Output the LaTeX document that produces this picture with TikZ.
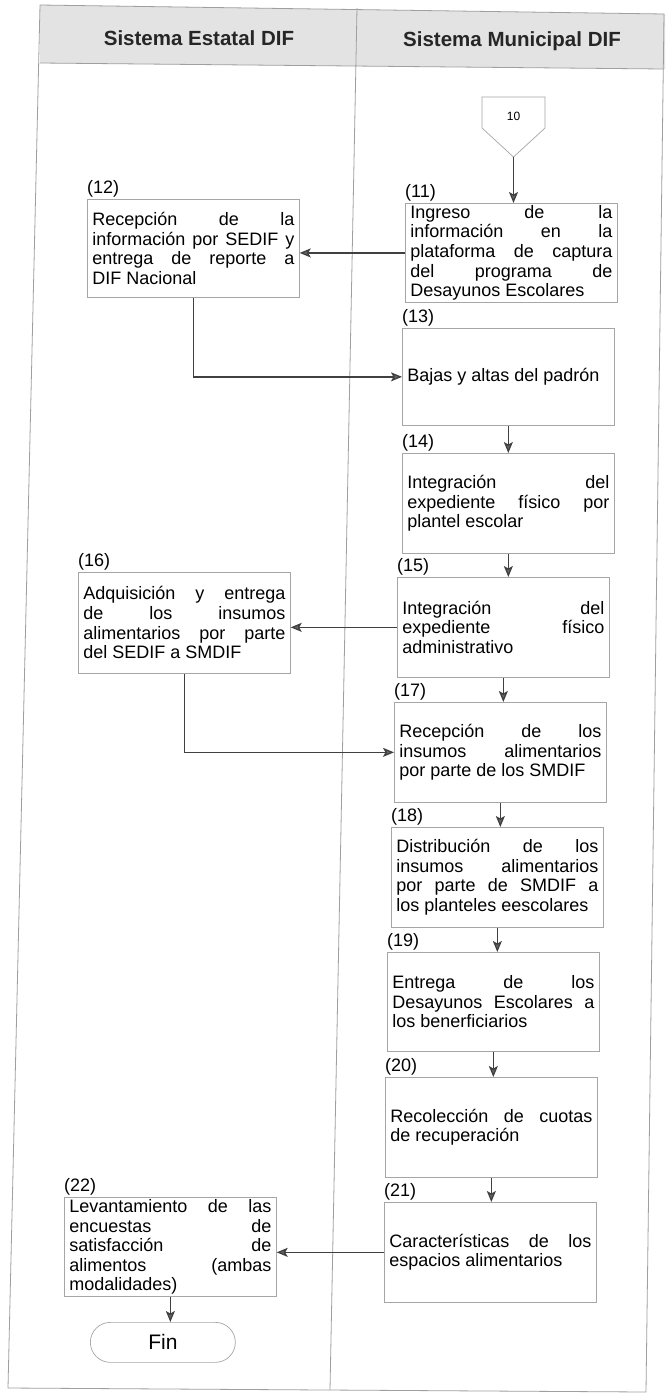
\documentclass[tikz,border=0pt]{standalone}
\usepackage{fontspec}
\setmainfont{Liberation Sans}
\usetikzlibrary{arrows.meta,calc}
\newcommand{\mysetjust}{\spaceskip=0.278em plus 8em minus 0.05em\relax\hyphenpenalty=10000\relax\exhyphenpenalty=10000\relax\tolerance=9999\relax}
\begin{document}
\begin{tikzpicture}[x=1pt,y=-1pt,
  pbox/.style={draw=gray!70, line width=0.7pt, text width=202pt, inner xsep=5pt, inner ysep=2pt,
    align=justify, anchor=north west, font=\fontsize{18}{19.6}\selectfont,
    execute at begin node=\mysetjust},
  numlab/.style={anchor=base west, inner sep=0pt, font=\fontsize{18}{19.6}\selectfont},
  arr/.style={draw=black!75, line width=1.3pt, -{Stealth[length=11pt,width=9pt,inset=2.5pt,fill=black!60]}},
  frame/.style={draw=gray!75, line width=0.8pt},
  head/.style={font=\fontsize{20.5}{22}\selectfont\bfseries, text=black!85},
]
\useasboundingbox (0,0) rectangle (665,1395);
\fill[white] (0,0) rectangle (665,1395);
% header
\fill[gray!22] (40,5) -- (665,14) -- (665,69) -- (40,63) -- cycle;
\draw[frame] (40,5) -- (664,14) -- (646,1392) -- (8,1388) -- cycle;
\draw[frame] (40,63) -- (664,69);
\draw[frame] (357,8) -- (330,1390);
\node[head] (h1) at (199,38) {Sistema Estatal DIF};
\node[head] (h2) at (512,41) {Sistema Municipal DIF};

% off-page connector 10
\draw[draw=gray!70, line width=0.7pt] (482,97) -- (545,97) -- (545,128) -- (513.5,157) -- (482,128) -- cycle;
\node[font=\fontsize{12}{13}\selectfont] (c10) at (513.5,116) {10};
\coordinate (c10tip) at (513.5,157);

% boxes
\node[pbox, minimum height=99pt] (b11) at (405,203) {Ingreso de la\linebreak información en la\linebreak plataforma de captura\linebreak del programa de\linebreak Desayunos Escolares};
\node[pbox, minimum height=98pt] (b12) at (87,199) {Recepción de la\linebreak información por SEDIF y\linebreak entrega de reporte a\linebreak DIF Nacional};
\node[pbox, minimum height=97pt] (b13) at (402,328) {Bajas y altas del padrón};
\node[pbox, minimum height=100pt] (b14) at (402,453) {Integración del\linebreak expediente físico por\linebreak plantel escolar};
\node[pbox, minimum height=100pt] (b15) at (397,577) {Integración del\linebreak expediente físico\linebreak administrativo};
\node[pbox, minimum height=101pt] (b16) at (78,572) {Adquisición y entrega\linebreak de los insumos\linebreak alimentarios por parte\linebreak del SEDIF a SMDIF};
\node[pbox, minimum height=100pt] (b17) at (394,702) {Recepción de los\linebreak insumos alimentarios\linebreak por parte de los SMDIF};
\node[pbox, minimum height=100pt] (b18) at (391,827) {Distribución de los\linebreak insumos alimentarios\linebreak por parte de SMDIF a\linebreak los planteles eescolares};
\node[pbox, minimum height=99pt] (b19) at (387,952) {Entrega de los\linebreak Desayunos Escolares a\linebreak los benerficiarios};
\node[pbox, minimum height=100pt] (b20) at (385,1077) {Recolección de cuotas\linebreak de recuperación};
\node[pbox, minimum height=100pt] (b21) at (384,1202) {Características de los\linebreak espacios alimentarios};
\node[pbox, minimum height=99pt] (b22) at (64,1197) {Levantamiento de las\linebreak encuestas de\linebreak satisfacción de\linebreak alimentos (ambas\linebreak modalidades)};
\node[draw=gray!70, line width=0.7pt, rounded corners=20pt, minimum width=145pt, minimum height=40pt,
  anchor=north west, font=\fontsize{21}{23}\selectfont] (fin) at (90,1322) {Fin};

% step numbers
\foreach \b/\t in {b11/11,b12/12,b13/13,b14/14,b15/15,b16/16,b17/17,b18/18,b19/19,b20/20,b21/21,b22/22}
  \node[numlab] (l\t) at ([yshift=6pt]\b.north west) {(\t)};

% connectors
\draw[arr] (c10tip) -- (c10tip |- b11.north);
\draw[arr] (b11.west) -- (b11.west -| b12.east);
\draw[arr] (b12.south) |- (b13.west);
\draw[arr] (b13.south) -- (b13.south |- b14.north);
\draw[arr] (b14.south) -- (b14.south |- b15.north);
\draw[arr] (b15.west) -- (b15.west -| b16.east);
\draw[arr] (b16.south) |- (b17.west);
\draw[arr] (b15.south) -- (b15.south |- b17.north);
\draw[arr] (b17.south) -- (b17.south |- b18.north);
\draw[arr] (b18.south) -- (b18.south |- b19.north);
\draw[arr] (b19.south) -- (b19.south |- b20.north);
\draw[arr] (b20.south) -- (b20.south |- b21.north);
\draw[arr] (b21.west) -- (b21.west -| b22.east);
\draw[arr] (b22.south) -- (b22.south |- fin.north);
\end{tikzpicture}
\end{document}
